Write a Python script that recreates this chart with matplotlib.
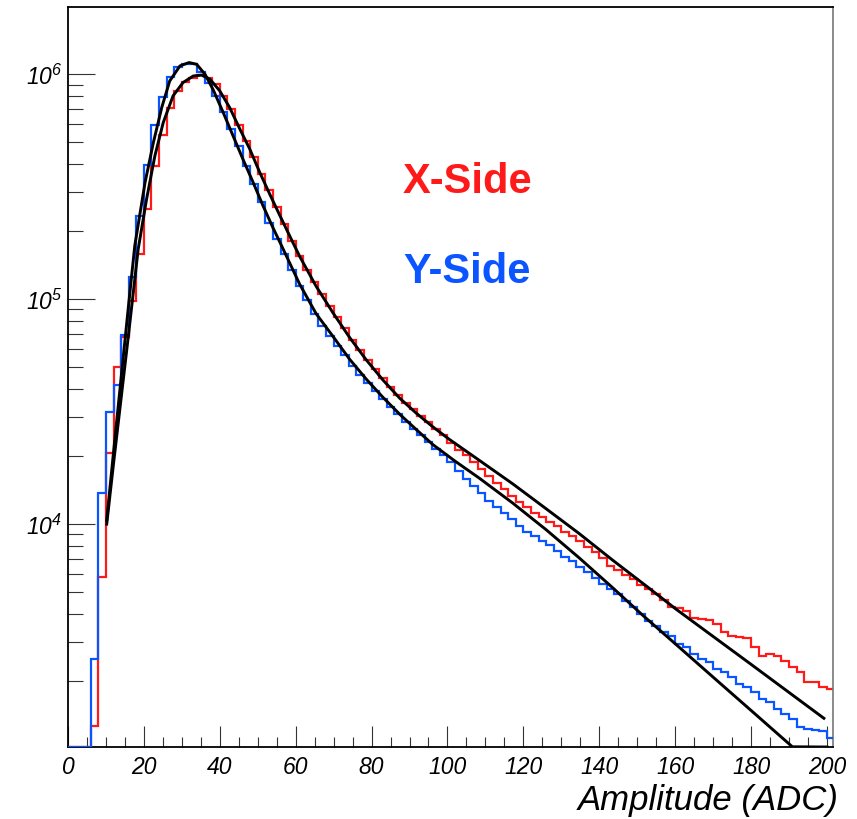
import numpy as np
import matplotlib
matplotlib.use("Agg")
import matplotlib.pyplot as plt
from matplotlib.ticker import LogLocator, MultipleLocator, NullFormatter

plt.rcParams['font.family'] = ['Liberation Sans', 'DejaVu Sans']
plt.rcParams['mathtext.fontset'] = 'custom'
plt.rcParams['mathtext.rm'] = 'Liberation Sans:italic'
plt.rcParams['mathtext.it'] = 'Liberation Sans:italic'
plt.rcParams['mathtext.bf'] = 'Liberation Sans:bold:italic'
plt.rcParams['mathtext.default'] = 'it'

# ---------------- data ----------------
bin_width = 2
x_edges = np.arange(0, 202 + bin_width, bin_width)   # 101 bins, 0..202

# X-Side histogram (red), counts per 2-ADC bin
x_side_counts = [
    0, 0, 0, 1270, 5810, 20700, 50000, 67900, 97700, 158000,
    251000, 389000, 537000, 708000, 841000, 923000, 966000, 989000, 966000, 902000,
    804000, 700000, 596000, 507000, 427000, 359000, 305000, 257000, 216000, 182000,
    155000, 135000, 119000, 105000, 93300, 83200, 74100, 66100, 59600, 53700,
    49000, 44700, 40700, 37600, 34700, 32400, 30200, 28500, 26600, 24800,
    22900, 21400, 20200, 18800, 17600, 16400, 15300, 14300, 13400, 12600,
    11900, 11200, 10700, 10200, 9770, 9230, 8810, 8410, 7940, 7500,
    7080, 6530, 6240, 5960, 5690, 5370, 5140, 4900, 4620, 4270,
    4220, 4120, 3820, 3780, 3760, 3600, 3300, 3190, 3160, 3130,
    2830, 2600, 2640, 2600, 2470, 2310, 2190, 1980, 1980, 1880,
    1850]

# Y-Side histogram (blue)
y_side_counts = [
    0, 0, 0, 2510, 13700, 31500, 41500, 69200, 125000, 234000,
    394000, 593000, 796000, 973000, 1077000, 1112000, 1107000, 1019000, 918000, 802000,
    676000, 570000, 480000, 392000, 324000, 269000, 219000, 185000, 158000, 135000,
    115000, 98900, 86100, 75900, 68400, 61700, 56200, 50700, 46200, 42200,
    38900, 35900, 33100, 30900, 28500, 26600, 24800, 23200, 21600, 20200,
    18800, 17200, 15800, 14800, 13800, 12700, 11900, 11200, 10500, 9770,
    9230, 8810, 8410, 8040, 7590, 7160, 6840, 6460, 6100, 5750,
    5430, 5130, 4900, 4570, 4270, 3980, 3690, 3530, 3300, 3190,
    2930, 2830, 2640, 2510, 2430, 2270, 2190, 2080, 1950, 1880,
    1790, 1670, 1620, 1510, 1430, 1360, 1250, 1230, 1210, 1205,
    1120]

# fitted curves (black)
x_fit_amp = [10.2, 12, 14, 16, 18.5, 20.7, 22.9, 25.1, 27.7, 30.3, 33.0, 35.2,
             37.4, 40, 42.6, 45.3, 47.9, 50.5, 53.2, 55.8, 59.3, 61.05, 65.4,
             69.8, 74.2, 78.6, 83, 87.4, 91.8, 96.1, 100.5, 108.4, 117.2, 126,
             134.7, 143.5, 152.3, 160.2, 180, 199.2]
x_fit_val = [10000, 18600, 36300, 70800, 167000, 278000, 434000, 610000, 802000,
             918000, 982000, 991000, 951000, 843000, 711000, 570000, 465000,
             367000, 292000, 236000, 178000, 155000, 114000, 87100, 67600, 53700,
             43700, 36300, 31100, 27100, 23800, 19200, 15100, 11700, 9080, 6920,
             5320, 4190, 2380, 1370]

y_fit_amp = [10.2, 12, 14, 16, 17.6, 20.3, 22.5, 24.7, 26.8, 29.5, 31.9, 33.9,
             36.1, 38.2, 40.9, 43.5, 46.1, 48.8, 51.4, 54.0, 56.2, 61.0, 65.4,
             69.8, 74.2, 78.6, 83, 87.4, 91.8, 96.1, 102, 108.4, 117.2, 126,
             134.7, 143.5, 151.4, 160, 172, 181, 190.9, 200]
y_fit_val = [10400, 20900, 44700, 95500, 173000, 330000, 497000, 711000, 933000,
             1089000, 1127000, 1107000, 1000000, 857000, 676000, 532000, 419000,
             330000, 260000, 208000, 174000, 117000, 86100, 68400, 54100, 44100,
             36600, 30800, 26300, 22600, 19050, 16000, 12400, 9440, 7080, 5220,
             3940, 2940, 1950, 1435, 1023, 748]

x_tick_values = [0, 20, 40, 60, 80, 100, 120, 140, 160, 180, 200]
y_tick_values = [1e4, 1e5, 1e6]
y_tick_labels = [r'$10^{4}$', r'$10^{5}$', r'$10^{6}$']

x_title = 'Amplitude (ADC)'
label_x = 'X-Side'
label_y = 'Y-Side'

# ---------------- plot ----------------
y_min, y_max = 1021, 1.99e6
x_min, x_max = 0, 201.6

red = '#ff1a1a'
blue = '#0a55ff'

fig = plt.figure(figsize=(8.57, 8.2), dpi=100)
ax = fig.add_axes([0.07935, 0.0878, 0.89265, 0.90244])
ax.set_yscale('log')

ax.stairs(np.clip(np.array(x_side_counts, float), y_min, None), x_edges,
          color=red, lw=1.6, baseline=None, zorder=2)
ax.stairs(np.clip(np.array(y_side_counts, float), y_min, None), x_edges,
          color=blue, lw=1.6, baseline=None, zorder=3)

ax.plot(x_fit_amp, np.clip(x_fit_val, y_min, None), color='black', lw=2.1,
        zorder=4, solid_joinstyle='round')
ax.plot(y_fit_amp, np.clip(y_fit_val, y_min, None), color='black', lw=2.1,
        zorder=4, solid_joinstyle='round')

ax.set_xlim(x_min, x_max)
ax.set_ylim(y_min, y_max)

ax.set_xticks(x_tick_values)
ax.set_xticklabels([str(v) for v in x_tick_values], fontstyle='italic',
                   fontsize=16.5)
ax.xaxis.set_minor_locator(MultipleLocator(5))
ax.set_yticks(y_tick_values)
ax.set_yticklabels(y_tick_labels, fontsize=16.5)
ax.yaxis.set_minor_locator(LogLocator(base=10, subs=np.arange(2, 10)))
ax.yaxis.set_minor_formatter(NullFormatter())

ax.tick_params(axis='x', which='major', direction='in', length=15, width=0.8,
               color='#333333', pad=6, top=False)
ax.tick_params(axis='x', which='minor', direction='in', length=7, width=0.8,
               color='#333333', top=False)
ax.tick_params(axis='y', which='major', direction='in', length=19.5, width=0.8,
               color='#333333', pad=4, right=False)
ax.tick_params(axis='y', which='minor', direction='in', length=10.8, width=0.8,
               color='#333333', right=False)

for s in ['left', 'bottom', 'top']:
    ax.spines[s].set_linewidth(1.3)
    ax.spines[s].set_color('black')
ax.spines['right'].set_linewidth(1.2)
ax.spines['right'].set_color('#777777')

fig.text(839 / 857, 1 - 810 / 820, x_title, ha='right', va='baseline',
         fontsize=25, fontstyle='italic')

ax.text(0.438, 0.75, label_x, transform=ax.transAxes, color=red,
        fontsize=30, fontweight='bold', ha='left', va='baseline')
ax.text(0.438, 0.628, label_y, transform=ax.transAxes, color=blue,
        fontsize=30, fontweight='bold', ha='left', va='baseline')

fig.savefig('out.png', dpi=100)
